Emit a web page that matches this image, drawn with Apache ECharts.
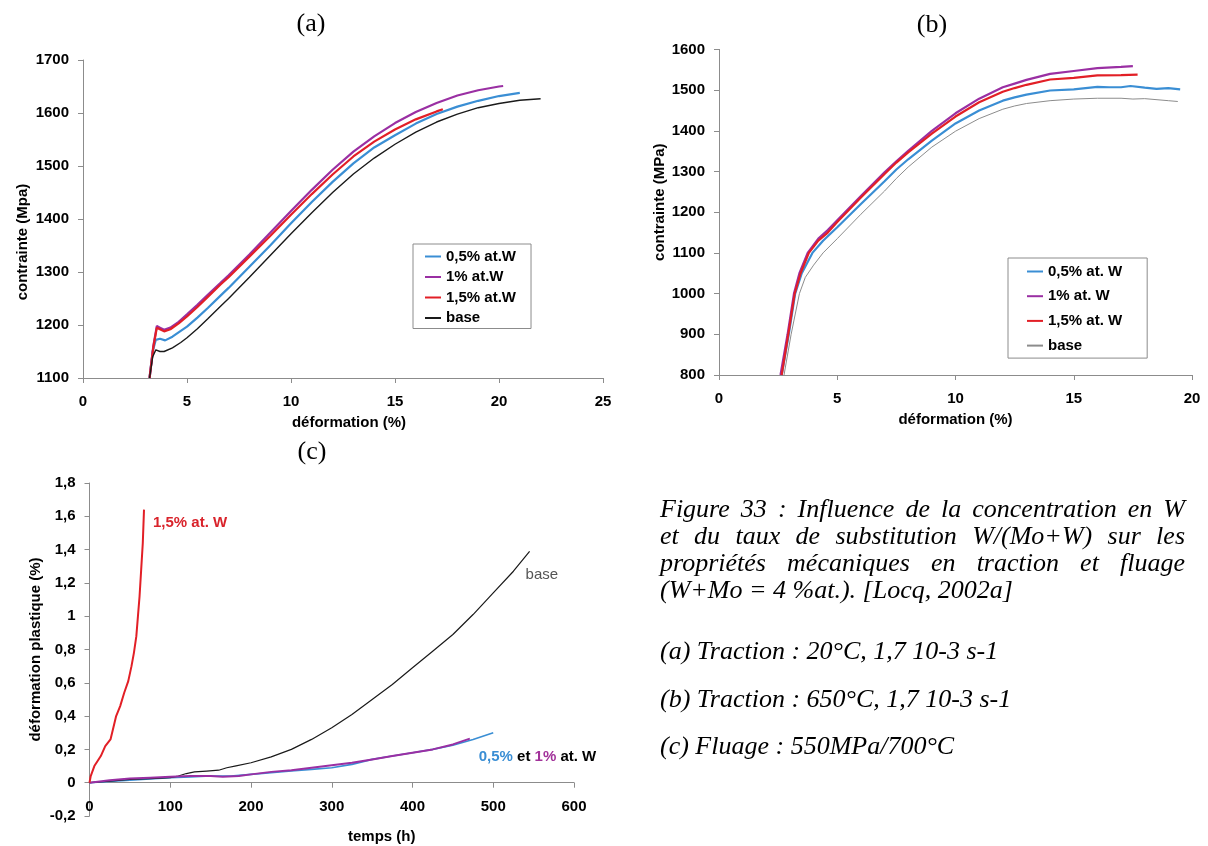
<!DOCTYPE html>
<html>
<head>
<meta charset="utf-8">
<script src="https://cdn.jsdelivr.net/npm/echarts@6/dist/echarts.min.js"></script>
<style>
html,body{margin:0;padding:0;background:#fff;}
#c{width:1208px;height:846px;}
</style>
</head>
<body>
<div id="c"></div>
<script>
// ---------- DATA ----------
// (a) Traction 20°C : [déformation %, contrainte MPa]
const aNames = ['0,5% at.W', '1% at.W', '1,5% at.W', 'base'];
const a_w05 = [[3.2,1100],[3.35,1150],[3.5,1172],[3.7,1174],[3.95,1171],[4.3,1178],[4.7,1189],[5,1197],[5.5,1214],[6,1232],[6.6,1255],[7,1270],[8,1310],[9,1350],[10,1392],[11,1432],[12,1470],[13,1505],[14,1535],[15,1558],[16,1580],[17,1598],[18,1612],[19,1623],[20,1632],[21,1638]];
const a_w1 = [[3.2,1100],[3.38,1160],[3.55,1198],[3.7,1195],[3.9,1191],[4.2,1195],[4.6,1206],[5,1220],[5.5,1238],[6,1257],[6.6,1279],[7,1294],[8,1333],[9,1374],[10,1415],[11,1455],[12,1493],[13,1527],[14,1556],[15,1581],[16,1602],[17,1619],[18,1633],[19,1643],[20,1650],[20.2,1651]];
const a_w15 = [[3.2,1100],[3.38,1158],[3.55,1195],[3.7,1192],[3.9,1188],[4.2,1192],[4.6,1203],[5,1216],[5.5,1234],[6,1253],[6.6,1276],[7,1290],[8,1329],[9,1368],[10,1408],[11,1447],[12,1484],[13,1518],[14,1546],[15,1569],[16,1588],[17,1603],[17.3,1607]];
const a_base = [[3.2,1100],[3.35,1140],[3.5,1153],[3.7,1150],[3.9,1150],[4.3,1157],[4.7,1167],[5,1176],[5.5,1193],[6,1212],[6.6,1235],[7,1250],[8,1290],[9,1331],[10,1372],[11,1412],[12,1450],[13,1485],[14,1515],[15,1541],[16,1564],[17,1583],[18,1598],[19,1610],[20,1618],[21,1624],[22,1627]];

// (b) Traction 650°C
const bNames = ['0,5% at. W', '1% at. W', '1,5% at. W', 'base'];
const b_w05 = [[2.65,800],[2.95,900],[3.22,1000],[3.5,1050],[3.95,1100],[4.4,1130],[4.8,1152],[5,1163],[6,1220],[7,1276],[7.5,1305],[8,1330],[9,1376],[10,1418],[11,1450],[12,1474],[12.5,1482],[13,1489],[14,1499],[15,1502],[16,1508],[16.5,1507],[17,1507],[17.4,1510],[18,1506],[18.5,1503],[19,1505],[19.5,1502]];
const b_w1 = [[2.6,800],[2.9,900],[3.17,1000],[3.4,1050],[3.75,1100],[4.2,1135],[4.6,1156],[5,1180],[6,1240],[7,1298],[7.5,1325],[8,1351],[9,1400],[10,1443],[11,1479],[12,1507],[12.5,1516],[13,1525],[14,1540],[15,1547],[16,1554],[17,1557],[17.5,1559]];
const b_w15 = [[2.65,800],[2.93,900],[3.2,1000],[3.45,1050],[3.8,1100],[4.2,1130],[4.6,1150],[5,1176],[6,1236],[7,1294],[7.5,1322],[8,1347],[9,1393],[10,1435],[11,1470],[12,1496],[12.5,1505],[13,1513],[14,1526],[15,1530],[16,1536],[17,1537],[17.7,1538]];
const b_base = [[2.75,800],[3.05,900],[3.4,1000],[3.65,1040],[4,1070],[4.4,1100],[5,1135],[6,1195],[7,1252],[7.5,1283],[8,1311],[9,1360],[10,1399],[11,1430],[12,1453],[12.5,1461],[13,1467],[14,1474],[15,1478],[16,1480],[17,1480],[17.5,1478],[18,1479],[19,1474],[19.4,1472]];

// (c) Fluage 550MPa/700°C : [temps h, déformation plastique %]
const c_w15 = [[0,0],[1.5,0.04],[6,0.1],[14,0.16],[19.5,0.22],[26,0.26],[29,0.32],[33,0.4],[38,0.46],[43,0.54],[48,0.61],[52,0.7],[55,0.78],[58,0.88],[60,1.0],[62,1.12],[64,1.28],[66,1.44],[67.5,1.64]];
const c_base = [[0,0],[25,0.01],[50,0.02],[75,0.025],[100,0.03],[110,0.04],[120,0.055],[130,0.065],[145,0.07],[160,0.075],[170,0.09],[180,0.1],[200,0.12],[225,0.155],[250,0.2],[275,0.26],[300,0.33],[325,0.41],[350,0.5],[375,0.59],[400,0.69],[425,0.79],[450,0.89],[475,1.01],[500,1.14],[525,1.27],[545,1.39]];
const c_w05 = [[0,0],[25,0.008],[50,0.015],[75,0.022],[100,0.03],[125,0.035],[150,0.04],[175,0.04],[200,0.05],[225,0.06],[250,0.07],[275,0.08],[300,0.09],[325,0.11],[350,0.14],[375,0.16],[400,0.18],[425,0.2],[450,0.225],[475,0.26],[500,0.3]];
const c_w1 = [[0,0],[25,0.015],[50,0.025],[75,0.03],[100,0.035],[125,0.04],[150,0.04],[165,0.035],[185,0.04],[200,0.05],[225,0.065],[250,0.075],[275,0.09],[300,0.105],[325,0.12],[350,0.14],[375,0.16],[400,0.18],[425,0.2],[450,0.23],[471,0.265]];
// annotations of (c), anchored in data coordinates (left edge, middle)
const cLabel15 = {text: '1,5% at. W', at: [78.6, 1.56]};
const cLabelBase = {text: 'base', at: [540, 1.25]};
const cLabelLow = {at: [482, 0.156]};

// titles and caption texts
const panelTitles = ['(a)', '(b)', '(c)'];
const axisNames = {ax: 'déformation (%)', ay: 'contrainte (Mpa)', bx: 'déformation (%)', by: 'contrainte (MPa)', cx: 'temps (h)', cy: 'déformation plastique (%)'};
const captionLines = [
  'Figure 33 : Influence de la concentration en W',
  'et du taux de substitution W/(Mo+W) sur les',
  'propriétés mécaniques en traction et fluage',
  '(W+Mo = 4 %at.). [Locq, 2002a]',
  '(a) Traction : 20°C, 1,7 10-3 s-1',
  '(b) Traction : 650°C, 1,7 10-3 s-1',
  '(c) Fluage : 550MPa/700°C'
];

// ---------- STYLE ----------
const SANS = "'Liberation Sans', Arial, sans-serif";
const SERIF = "'Liberation Serif', 'Times New Roman', serif";
const BLUE = '#3a8ed4', PURPLE = '#9a2fa3', RED = '#e21f26', BLACK = '#1a1a1a', GREY = '#8c8c8c';
const AXC = '#8c8c8c';

const chart = echarts.init(document.getElementById('c'), null, {renderer: 'canvas'});

const plainFmt = v => String(v);
const commaFmt = v => String(Math.round(v * 10) / 10).replace('.', ',');
function lbl(margin, fmt) {
  return {color: '#000', fontFamily: SANS, fontWeight: 'bold', fontSize: 15, margin: margin, formatter: fmt || plainFmt};
}
function nts(pad) {
  return {color: '#000', fontFamily: SANS, fontWeight: 'bold', fontSize: 15, padding: pad};
}
function axisBase(extra) {
  return Object.assign({
    type: 'value',
    axisLine: {show: true, onZero: false, lineStyle: {color: AXC, width: 1}},
    axisTick: {show: true, inside: false, length: 5, lineStyle: {color: AXC}},
    splitLine: {show: false},
    axisLabel: lbl(14),
    nameLocation: 'middle'
  }, extra);
}
function line(name, data, xi, color, width, z) {
  return {
    name: name, type: 'line', data: data, xAxisIndex: xi, yAxisIndex: xi,
    showSymbol: false, symbol: 'none', smooth: false, z: z || 2,
    lineStyle: {color: color, width: width}, itemStyle: {color: color},
    emphasis: {disabled: true}
  };
}

const legendText = {fontFamily: SANS, fontWeight: 'bold', fontSize: 15, color: '#000', lineHeight: 15};

const option = {
  animation: false,
  backgroundColor: '#fff',
  grid: [
    {left: 83, top: 60, width: 520, height: 318, containLabel: false, outerBoundsMode: 'none'},
    {left: 719, top: 49.4, width: 473, height: 325.6, containLabel: false, outerBoundsMode: 'none'},
    {left: 89.5, top: 483, width: 484.5, height: 333, containLabel: false, outerBoundsMode: 'none'}
  ],
  xAxis: [
    axisBase({gridIndex: 0, min: 0, max: 25, interval: 5, name: axisNames.ax, nameGap: 37,
      axisLabel: lbl(16), nameTextStyle: nts([0, 0, 0, 12])}),
    axisBase({gridIndex: 1, min: 0, max: 20, interval: 5, name: axisNames.bx, nameGap: 37,
      axisLabel: lbl(16), nameTextStyle: nts([0, 0, 0, 0])}),
    axisBase({gridIndex: 2, min: 0, max: 600, interval: 100, name: axisNames.cx, nameGap: 13,
      axisLine: {show: true, onZero: true, lineStyle: {color: AXC, width: 1}},
      axisLabel: lbl(-17), nameTextStyle: nts([0, 0, 0, 100])})
  ],
  yAxis: [
    axisBase({gridIndex: 0, min: 1100, max: 1700, interval: 100, name: axisNames.ay, nameGap: 53,
      nameTextStyle: nts([0, 46, 0, 0])}),
    axisBase({gridIndex: 1, min: 800, max: 1600, interval: 100, name: axisNames.by, nameGap: 52,
      nameTextStyle: nts([0, 0, 0, 20])}),
    axisBase({gridIndex: 2, min: -0.2, max: 1.8, interval: 0.2, name: axisNames.cy, nameGap: 46,
      axisLabel: lbl(14, commaFmt), nameTextStyle: nts([0, 0, 0, 0])})
  ],
  legend: [
    {
      left: 413, top: 244, orient: 'vertical', selectedMode: false,
      data: aNames, icon: 'rect', itemWidth: 16, itemHeight: 2, itemGap: 5.5,
      padding: [5, 15, 3, 12], borderColor: AXC, borderWidth: 1, textStyle: legendText
    },
    {
      left: 1008, top: 258, orient: 'vertical', selectedMode: false,
      data: [bNames[0], bNames[1], bNames[2], {name: bNames[3], itemStyle: {color: GREY}}],
      icon: 'rect', itemWidth: 16, itemHeight: 2, itemGap: 9.7,
      padding: [6, 25, 5, 19], borderColor: AXC, borderWidth: 1, textStyle: legendText
    }
  ],
  series: [
    line(aNames[0], a_w05, 0, BLUE, 2.2, 2),
    line(aNames[1], a_w1, 0, PURPLE, 2.2, 3),
    line(aNames[2], a_w15, 0, RED, 2.2, 4),
    line(aNames[3], a_base, 0, BLACK, 1.4, 5),
    line(bNames[0], b_w05, 1, BLUE, 2.2, 2),
    line(bNames[1], b_w1, 1, PURPLE, 2.2, 3),
    line(bNames[2], b_w15, 1, RED, 2.2, 4),
    line(bNames[3], b_base, 1, GREY, 1, 5),
    line('c 1,5% at. W', c_w15, 2, RED, 2, 4),
    line('c base', c_base, 2, BLACK, 1.2, 3),
    line('c 0,5% at. W', c_w05, 2, BLUE, 1.6, 2),
    line('c 1% at. W', c_w1, 2, PURPLE, 2, 3)
  ]
};
chart.setOption(option);

// ---------- GRAPHIC TEXTS ----------
function txt(text, x, y, font, fill, align) {
  return {
    type: 'text', silent: true,
    style: {text: text, x: x, y: y, font: font, fill: fill,
      align: align || 'left', verticalAlign: 'middle',
      textAlign: align || 'left', textVerticalAlign: 'middle'}
  };
}
const els = [];
const titleFont = '26px ' + SERIF;
els.push(txt(panelTitles[0], 311, 24, titleFont, '#000', 'center'));
els.push(txt(panelTitles[1], 932, 25, titleFont, '#000', 'center'));
els.push(txt(panelTitles[2], 312, 452, titleFont, '#000', 'center'));

// annotations of panel (c)
const p15 = chart.convertToPixel({gridIndex: 2}, cLabel15.at);
els.push(txt(cLabel15.text, p15[0], p15[1], 'bold 15px ' + SANS, '#d9232b', 'left'));
const pb = chart.convertToPixel({gridIndex: 2}, cLabelBase.at);
els.push(txt(cLabelBase.text, pb[0], pb[1], '15px ' + SANS, '#555555', 'left'));
const pl = chart.convertToPixel({gridIndex: 2}, cLabelLow.at);
els.push({
  type: 'text', silent: true,
  style: {
    x: pl[0], y: pl[1], verticalAlign: 'middle', textVerticalAlign: 'middle',
    text: '{b|0,5%} {k|et} {p|1%} {k|at. W}',
    rich: {
      b: {fill: BLUE, color: BLUE, fontFamily: SANS, fontWeight: 'bold', fontSize: 15},
      p: {fill: '#a2329a', color: '#a2329a', fontFamily: SANS, fontWeight: 'bold', fontSize: 15},
      k: {fill: '#000', color: '#000', fontFamily: SANS, fontWeight: 'bold', fontSize: 15}
    },
    fontFamily: SANS, fontWeight: 'bold', fontSize: 15, fill: '#000'
  }
});

// caption (justified like the source document)
const capLeft = 660, capRight = 1185, capSize = 26;
const capY = [510, 537, 564, 591, 652, 700, 747];
const capJustify = [true, true, true, false, false, false, false];
const capFont = 'italic ' + capSize + 'px ' + SERIF;
const mctx = document.createElement('canvas').getContext('2d');
mctx.font = capFont;
captionLines.forEach((ln, i) => {
  if (capJustify[i]) {
    const words = ln.split(' ');
    const w = words.map(s => mctx.measureText(s).width);
    const tot = w.reduce((a, b) => a + b, 0);
    const gap = (capRight - capLeft - tot) / (words.length - 1);
    let x = capLeft;
    words.forEach((s, j) => { els.push(txt(s, x, capY[i], capFont, '#000', 'left')); x += w[j] + gap; });
  } else {
    els.push(txt(ln, capLeft, capY[i], capFont, '#000', 'left'));
  }
});
chart.setOption({graphic: {elements: els}});
</script>
</body>
</html>
